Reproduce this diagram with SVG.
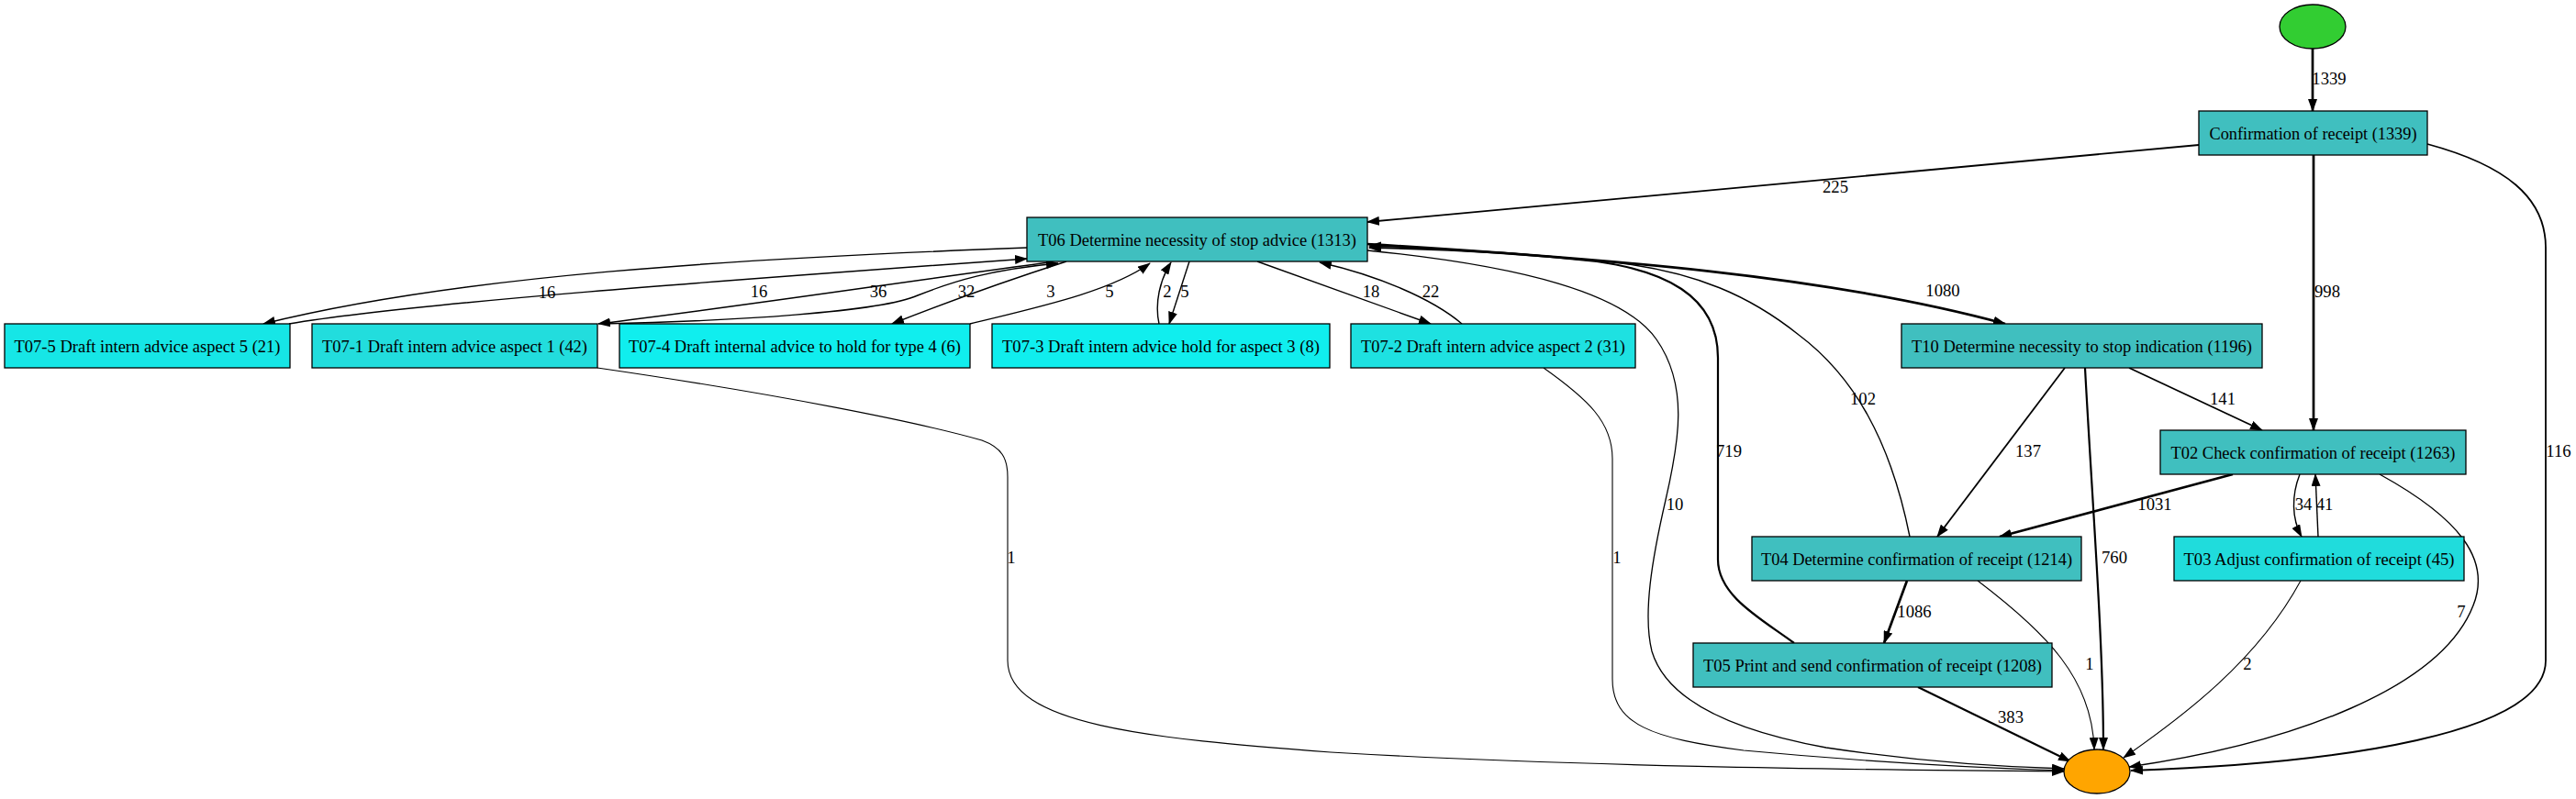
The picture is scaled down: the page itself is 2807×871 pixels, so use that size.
<svg xmlns="http://www.w3.org/2000/svg" width="2807" height="871" viewBox="0 0 2807 871">
<style>
.n rect, .n ellipse {stroke:#000; stroke-width:1.3}
.n text {font-family:"Liberation Serif","Times New Roman",serif; font-size:18.67px; text-anchor:middle; fill:#000}
.c path {fill:none; stroke:#000; marker-end:url(#a)}
.c text {font-family:"Liberation Serif","Times New Roman",serif; font-size:18.67px; text-anchor:middle; fill:#000}
.dk {fill:#40bfbf}
.e1 {stroke-width:1.1}
.e2 {stroke-width:1.4}
.e3 {stroke-width:1.8}
.e4 {stroke-width:2.2}
.e5 {stroke-width:2.7}
</style>
<defs>
<marker id="a" markerUnits="userSpaceOnUse" markerWidth="14" markerHeight="10" viewBox="0 0 14 10" refX="13" refY="5" orient="auto">
<path d="M0,0 L14,5 L0,10 z" fill="#000"/>
</marker>
</defs>
<rect width="2807" height="871" fill="#fff"/>
<g id="connectors" class="c">
<path class="e5" d="M2520,53 L2520,121"/><text x="2538" y="92">1339</text>
<path class="e3" d="M2396,158 L1490,242"/><text x="2000" y="210">225</text>
<path class="e5" d="M2521,169 L2521,469"/><text x="2536" y="324">998</text>
<path class="e3" d="M2645,157 C2730,180 2774,215 2774,270 L2774,720 C2774,800 2550,832 2322,840"/><text x="2788" y="498">116</text>
<path class="e2" d="M1119,270 C800,282 500,300 287,353"/><text x="596" y="325">16</text>
<path class="e2" d="M315,353 C450,330 800,305 1119,282"/><text x="827" y="324">16</text>
<path class="e2" d="M1143,286 C1000,305 800,335 652,353"/><text x="957" y="324">36</text>
<path class="e2" d="M656,353 C800,350 960,340 1000,322 C1040,306 1080,294 1153,287"/><text x="1053" y="324">32</text>
<path class="e2" d="M1162,285 C1100,305 1030,330 972,353"/><text x="1145" y="324">3</text>
<path class="e2" d="M1057,353 C1130,335 1210,318 1253,287"/><text x="1209" y="324">5</text>
<path class="e2" d="M1263,353 C1258,330 1264,305 1276,286"/><text x="1272" y="324">2</text>
<path class="e2" d="M1296,285 L1274,353"/><text x="1291" y="324">5</text>
<path class="e2" d="M1370,285 L1559,353"/><text x="1494" y="324">18</text>
<path class="e2" d="M1593,353 C1560,325 1500,300 1438,286"/><text x="1559" y="324">22</text>
<path class="e5" d="M1490,266 C1750,282 1990,300 2185,353"/><text x="2117" y="323">1080</text>
<path class="e2" style="stroke-width:1.3" d="M1490,273 C1660,290 1770,320 1805,370 C1840,420 1830,480 1815,545 C1800,610 1790,670 1800,710 C1815,760 1880,795 1990,815 C2090,830 2180,836 2249,838"/><text x="1825" y="556">10</text>
<path class="e4" d="M1955,701 C1920,675 1872,650 1872,610 L1872,390 C1872,320 1810,295 1740,285 C1650,275 1560,271 1492,270"/><text x="1884" y="498">719</text>
<path class="e2" d="M2081,585 C2060,480 2020,410 1960,365 C1910,325 1850,295 1750,285 C1650,275 1560,270 1492,268"/><text x="2030" y="441">102</text>
<path class="e1" d="M651,401 C850,430 1000,460 1070,480 C1092,488 1098,500 1098,520 L1098,720 C1098,790 1250,805 1450,820 C1700,835 2000,839 2249,841"/><text x="1102" y="614">1</text>
<path class="e1" d="M1682,401 C1730,435 1757,460 1757,500 L1757,740 C1757,790 1800,805 1900,818 C2050,832 2180,838 2249,840"/><text x="1762" y="614">1</text>
<path class="e3" d="M2250,401 L2111,585"/><text x="2210" y="498">137</text>
<path class="e3" d="M2320,401 L2465,469"/><text x="2422" y="441">141</text>
<path class="e4" d="M2272,401 C2280,550 2292,700 2292,817"/><text x="2304" y="614">760</text>
<path class="e5" d="M2433,517 L2179,585"/><text x="2348" y="556">1031</text>
<path class="e2" d="M2506,517 C2497,540 2497,565 2508,585"/><text x="2510" y="556">34</text>
<path class="e2" d="M2526,585 L2523,517"/><text x="2533" y="556">41</text>
<path class="e2" d="M2593,517 C2680,565 2715,610 2695,660 C2660,750 2500,810 2320,836"/><text x="2682" y="673">7</text>
<path class="e5" d="M2078,633 L2053,701"/><text x="2086" y="673">1086</text>
<path class="e1" d="M2155,633 C2230,690 2280,740 2282,817"/><text x="2277" y="730">1</text>
<path class="e1" d="M2507,633 C2460,720 2380,780 2314,826"/><text x="2449" y="730">2</text>
<path class="e4" d="M2090,749 L2256,830"/><text x="2191" y="788">383</text>
</g>
<g id="start" class="n"><ellipse cx="2520" cy="29" rx="36" ry="24" fill="#32cd32"/></g>
<g id="confirmation" class="n"><rect class="dk" x="2396" y="121" width="249" height="48"/><text x="2520.5" y="151.5" textLength="226" lengthAdjust="spacingAndGlyphs">Confirmation of receipt (1339)</text></g>
<g id="t06" class="n"><rect class="dk" x="1119" y="237" width="371" height="48"/><text x="1304.5" y="267.5" textLength="347" lengthAdjust="spacingAndGlyphs">T06 Determine necessity of stop advice (1313)</text></g>
<g id="t07-5" class="n"><rect fill="#16e6e6" x="5" y="353" width="311" height="48"/><text x="160.5" y="383.5" textLength="290" lengthAdjust="spacingAndGlyphs">T07-5 Draft intern advice aspect 5 (21)</text></g>
<g id="t07-1" class="n"><rect fill="#22dddd" x="340" y="353" width="311" height="48"/><text x="495.5" y="383.5" textLength="289" lengthAdjust="spacingAndGlyphs">T07-1 Draft intern advice aspect 1 (42)</text></g>
<g id="t07-4" class="n"><rect fill="#10eeee" x="675" y="353" width="382" height="48"/><text x="866" y="383.5" textLength="362" lengthAdjust="spacingAndGlyphs">T07-4 Draft internal advice to hold for type 4 (6)</text></g>
<g id="t07-3" class="n"><rect fill="#10eeee" x="1081" y="353" width="368" height="48"/><text x="1265" y="383.5" textLength="346" lengthAdjust="spacingAndGlyphs">T07-3 Draft intern advice hold for aspect 3 (8)</text></g>
<g id="t07-2" class="n"><rect fill="#1ee1e1" x="1472" y="353" width="310" height="48"/><text x="1627" y="383.5" textLength="288" lengthAdjust="spacingAndGlyphs">T07-2 Draft intern advice aspect 2 (31)</text></g>
<g id="t10" class="n"><rect class="dk" x="2072" y="353" width="393" height="48"/><text x="2268.5" y="383.5" textLength="371" lengthAdjust="spacingAndGlyphs">T10 Determine necessity to stop indication (1196)</text></g>
<g id="t02" class="n"><rect class="dk" x="2354" y="469" width="333" height="48"/><text x="2520.5" y="499.5" textLength="310" lengthAdjust="spacingAndGlyphs">T02 Check confirmation of receipt (1263)</text></g>
<g id="t04" class="n"><rect class="dk" x="1909" y="585" width="359" height="48"/><text x="2088.5" y="615.5" textLength="339" lengthAdjust="spacingAndGlyphs">T04 Determine confirmation of receipt (1214)</text></g>
<g id="t03" class="n"><rect fill="#20dcdc" x="2369" y="585" width="316" height="48"/><text x="2527" y="615.5" textLength="295" lengthAdjust="spacingAndGlyphs">T03 Adjust confirmation of receipt (45)</text></g>
<g id="t05" class="n"><rect class="dk" x="1845" y="701" width="391" height="48"/><text x="2040.5" y="731.5" textLength="369" lengthAdjust="spacingAndGlyphs">T05 Print and send confirmation of receipt (1208)</text></g>
<g id="end" class="n"><ellipse cx="2285" cy="841" rx="36" ry="24" fill="#ffa500"/></g>
</svg>
